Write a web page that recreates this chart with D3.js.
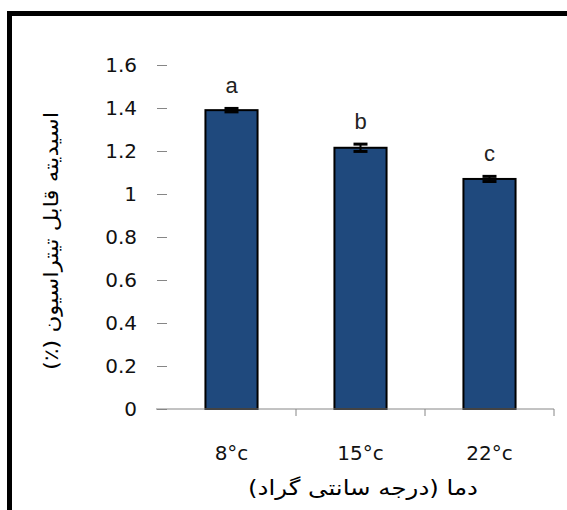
<!DOCTYPE html>
<html>
<head>
<meta charset="utf-8">
<script src="https://cdn.jsdelivr.net/npm/d3@7"></script>
<style>
  html, body { margin: 0; padding: 0; background: #fff; }
  svg { display: block; }
</style>
</head>
<body>
<svg id="chart" width="567" height="510"></svg>
<script>
// Titratable acidity by storage temperature
const categories = ["8°c", "15°c", "22°c"];
const values = [1.39, 1.215, 1.07];
const errors = [0.008, 0.017, 0.012];
const groupLetters = ["a", "b", "c"];
const yTicks = [0, 0.2, 0.4, 0.6, 0.8, 1, 1.2, 1.4, 1.6];
const xTitle = "دما (درجه سانتی گراد)";
const yTitle = "اسیدیته قابل تیتراسیون (٪)";

const svg = d3.select("#chart");
const font = "'DejaVu Sans', Verdana, sans-serif";

// outer frame (only the top and left edges fall inside the canvas)
svg.append("rect")
  .attr("x", 9.5).attr("y", 13.5)
  .attr("width", 700).attr("height", 700)
  .attr("fill", "none").attr("stroke", "#000").attr("stroke-width", 5);

const plot = { left: 167, right: 554, top: 65, bottom: 409 };

const x = d3.scaleBand()
  .domain(categories)
  .range([plot.left, plot.right])
  .paddingInner(0.596)
  .paddingOuter(0.298);

const y = d3.scaleLinear()
  .domain([0, 1.6])
  .range([plot.bottom, plot.top]);

// y axis: ticks only, no spine
const yAxis = svg.append("g")
  .attr("transform", `translate(${plot.left},0)`)
  .call(d3.axisLeft(y).tickValues(yTicks).tickSize(10).tickPadding(20)
        .tickFormat(d3.format("")));
yAxis.select(".domain").remove();
yAxis.selectAll(".tick line").attr("stroke", "#868686");
yAxis.selectAll(".tick text")
  .attr("font-family", font).attr("font-size", 20).attr("fill", "#111");

// bars
svg.append("g").selectAll("rect")
  .data(values)
  .join("rect")
  .attr("x", (d, i) => x(categories[i]))
  .attr("y", d => y(d))
  .attr("width", x.bandwidth())
  .attr("height", d => y(0) - y(d))
  .attr("fill", "#1F497D")
  .attr("stroke", "#000")
  .attr("stroke-width", 2);

// x axis line with category separators
const xAxisG = svg.append("g");
xAxisG.append("line")
  .attr("x1", plot.left - 11).attr("x2", plot.right)
  .attr("y1", y(0)).attr("y2", y(0))
  .attr("stroke", "#868686").attr("stroke-width", 1);
const bounds = categories.map((c, i) => x(c) + x.bandwidth() / 2 + x.step() / 2);
xAxisG.selectAll("line.sep")
  .data(bounds)
  .join("line")
  .attr("class", "sep")
  .attr("x1", d => d).attr("x2", d => d)
  .attr("y1", y(0)).attr("y2", y(0) + 7)
  .attr("stroke", "#868686").attr("stroke-width", 1);

xAxisG.selectAll("text.cat")
  .data(categories)
  .join("text")
  .attr("class", "cat")
  .attr("x", d => x(d) + x.bandwidth() / 2)
  .attr("y", 460)
  .attr("text-anchor", "middle")
  .attr("font-family", font).attr("font-size", 20).attr("fill", "#111")
  .text(d => d);

// error bars
const eb = svg.append("g").attr("stroke", "#000");
values.forEach((v, i) => {
  const cx = x(categories[i]) + x.bandwidth() / 2;
  const hi = y(v + errors[i]), lo = y(v - errors[i]);
  eb.append("line").attr("x1", cx).attr("x2", cx).attr("y1", hi).attr("y2", lo).attr("stroke-width", 2);
  eb.append("line").attr("x1", cx - 7).attr("x2", cx + 7).attr("y1", hi).attr("y2", hi).attr("stroke-width", 3);
  eb.append("line").attr("x1", cx - 7).attr("x2", cx + 7).attr("y1", lo).attr("y2", lo).attr("stroke-width", 3);
});

// significance letters
svg.append("g").selectAll("text")
  .data(groupLetters)
  .join("text")
  .attr("x", (d, i) => x(categories[i]) + x.bandwidth() / 2)
  .attr("y", (d, i) => y(values[i] + errors[i]) - 15)
  .attr("text-anchor", "middle")
  .attr("font-family", "'Liberation Sans', Arial, sans-serif")
  .attr("font-size", 22)
  .attr("fill", "#222")
  .text(d => d);

// axis titles
svg.append("text")
  .attr("x", 363).attr("y", 495)
  .attr("text-anchor", "middle")
  .attr("direction", "rtl")
  .attr("font-family", font).attr("font-size", 21)
  .attr("textLength", 230).attr("lengthAdjust", "spacingAndGlyphs")
  .text(xTitle);

svg.append("text")
  .attr("transform", "translate(58,241) rotate(-90)")
  .attr("text-anchor", "middle")
  .attr("direction", "rtl")
  .attr("font-family", font).attr("font-size", 20)
  .attr("textLength", 258).attr("lengthAdjust", "spacingAndGlyphs")
  .text(yTitle);
</script>
</body>
</html>
